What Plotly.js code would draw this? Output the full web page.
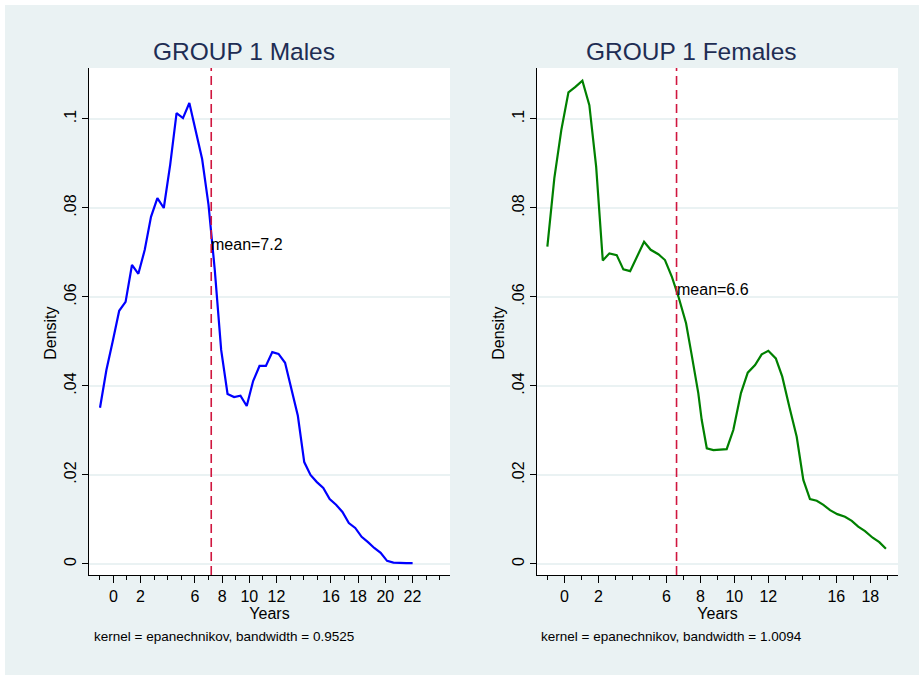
<!DOCTYPE html>
<html>
<head>
<meta charset="utf-8">
<script src="https://cdn.plot.ly/plotly-3.0.1.min.js"></script>
<style>
  html, body { margin: 0; padding: 0; background: #ffffff; }
  #chart { position: absolute; left: 5px; top: 5px; width: 914px; height: 670px; }
</style>
</head>
<body>
<div id="chart"></div>
<script>
// ---- Data ----
const maleX = [-0.98, -0.51, -0.04, 0.43, 0.90, 1.37, 1.84, 2.31, 2.77, 3.24, 3.71, 4.18, 4.65, 5.12, 5.59, 6.06, 6.53, 7.00, 7.46, 7.93, 8.40, 8.88, 9.35, 9.81, 10.28, 10.75, 11.22, 11.69, 12.15, 12.63, 13.10, 13.57, 14.04, 14.50, 14.97, 15.44, 15.91, 16.38, 16.85, 17.32, 17.79, 18.26, 18.73, 19.19, 19.66, 20.13, 20.60, 21.07, 21.54, 22.01];
const maleY = [0.0351, 0.0436, 0.0501, 0.0569, 0.0589, 0.0672, 0.0652, 0.0706, 0.0780, 0.0822, 0.0800, 0.0897, 0.1013, 0.1002, 0.1036, 0.0969, 0.0910, 0.0807, 0.0661, 0.0481, 0.0382, 0.0375, 0.0378, 0.0355, 0.0411, 0.0445, 0.0445, 0.0476, 0.0472, 0.0452, 0.0393, 0.0333, 0.0229, 0.0200, 0.0184, 0.0171, 0.0146, 0.0133, 0.0117, 0.0092, 0.0081, 0.0061, 0.0049, 0.0036, 0.0025, 0.0007, 0.0003, 0.0002, 0.0002, 0.0002];

const femaleX = [-1.00, -0.59, -0.18, 0.24, 0.65, 1.06, 1.47, 1.87, 2.26, 2.65, 3.08, 3.47, 3.87, 4.26, 4.69, 5.08, 5.53, 5.92, 6.32, 6.71, 7.16, 7.49, 7.88, 8.08, 8.38, 8.77, 9.16, 9.55, 9.94, 10.39, 10.79, 11.22, 11.61, 12.00, 12.44, 12.82, 13.24, 13.67, 14.06, 14.45, 14.85, 15.24, 15.63, 16.06, 16.51, 16.91, 17.29, 17.69, 18.14, 18.53, 18.92];
const femaleY = [0.0713, 0.0867, 0.0975, 0.1060, 0.1072, 0.1086, 0.1031, 0.0893, 0.0682, 0.0698, 0.0694, 0.0662, 0.0658, 0.0691, 0.0724, 0.0706, 0.0696, 0.0683, 0.0646, 0.0601, 0.0541, 0.0470, 0.0384, 0.0324, 0.0260, 0.0256, 0.0257, 0.0258, 0.0301, 0.0384, 0.0430, 0.0447, 0.0471, 0.0479, 0.0462, 0.0421, 0.0353, 0.0286, 0.0189, 0.0146, 0.0142, 0.0133, 0.0121, 0.0112, 0.0106, 0.0097, 0.0084, 0.0074, 0.0059, 0.0049, 0.0034];

const groupTitles = ['GROUP 1 Males', 'GROUP 1 Females'];
const means = [7.2, 6.6];
const bandwidths = ['0.9525', '1.0094'];

const yTickVals = [0, 0.02, 0.04, 0.06, 0.08, 0.1];
const yTickText = ['0', '.02', '.04', '.06', '.08', '.1'];
const maleXTicks = [0, 2, 6, 8, 10, 12, 16, 18, 20, 22];
const femaleXTicks = [0, 2, 6, 8, 10, 12, 16, 18];

// ---- Styling ----
const BG = '#EAF2F3';
const FONT = 'Liberation Sans, Arial, Helvetica, sans-serif';
const TITLE_COLOR = '#1E2D53';
const MEAN_COLOR = '#D0163F';

const traces = [
  { x: maleX, y: maleY, type: 'scatter', mode: 'lines', xaxis: 'x', yaxis: 'y',
    line: { color: '#0000FF', width: 2.2 }, hoverinfo: 'x+y', showlegend: false },
  { x: femaleX, y: femaleY, type: 'scatter', mode: 'lines', xaxis: 'x2', yaxis: 'y2',
    line: { color: '#008000', width: 2.2 }, hoverinfo: 'x+y', showlegend: false }
];

const yRange = [-0.00247, 0.11146];

function xAxis(domain, range, ticks) {
  return {
    domain: domain, range: range, anchor: domain[0] < 0.5 ? 'y' : 'y2',
    tickmode: 'array', tickvals: ticks, ticktext: ticks.map(String),
    ticks: 'outside', ticklen: 7, tickwidth: 1, tickcolor: '#000',
    minor: { tickmode: 'linear', tick0: 0, dtick: 1, ticks: 'outside', ticklen: 4, tickcolor: '#000', showgrid: false },
    showline: true, linecolor: '#000', linewidth: 1,
    showgrid: false, zeroline: false,
    tickfont: { family: FONT, size: 16, color: '#000' },
    title: { text: 'Years', font: { family: FONT, size: 16, color: '#000' }, standoff: 0 },
    fixedrange: true
  };
}
function yAxis(anchor) {
  return {
    domain: [0.1493, 0.906], range: yRange, anchor: anchor,
    tickmode: 'array', tickvals: yTickVals, ticktext: yTickText, tickangle: -90,
    ticks: 'outside', ticklen: 6, tickwidth: 1, tickcolor: '#000',
    showline: true, linecolor: '#000', linewidth: 1,
    showgrid: true, gridcolor: BG, gridwidth: 1.5, zeroline: false,
    tickfont: { family: FONT, size: 16, color: '#000' },
    fixedrange: true
  };
}

const shapes = [
  { type: 'line', xref: 'x', yref: 'y domain', x0: means[0], x1: means[0], y0: 0, y1: 1,
    line: { color: MEAN_COLOR, width: 1.6, dash: '9px,5px' } },
  { type: 'line', xref: 'x2', yref: 'y2 domain', x0: means[1], x1: means[1], y0: 0, y1: 1,
    line: { color: MEAN_COLOR, width: 1.6, dash: '9px,5px' } }
];

const annotations = [
  { text: groupTitles[0], xref: 'paper', yref: 'paper', x: 0.2615, y: 0.93, xanchor: 'center', yanchor: 'middle',
    showarrow: false, font: { family: FONT, size: 24.5, color: TITLE_COLOR } },
  { text: groupTitles[1], xref: 'paper', yref: 'paper', x: 0.7516, y: 0.93, xanchor: 'center', yanchor: 'middle',
    showarrow: false, font: { family: FONT, size: 24.5, color: TITLE_COLOR } },
  { text: 'Density', xref: 'paper', yref: 'paper', x: 0.0498, y: 0.51, textangle: -90, xanchor: 'center', yanchor: 'middle',
    showarrow: false, font: { family: FONT, size: 16, color: '#000' } },
  { text: 'Density', xref: 'paper', yref: 'paper', x: 0.5399, y: 0.51, textangle: -90, xanchor: 'center', yanchor: 'middle',
    showarrow: false, font: { family: FONT, size: 16, color: '#000' } },
  { text: 'mean=' + means[0], xref: 'x', yref: 'y', x: means[0], y: 0.0717, xanchor: 'left', yanchor: 'middle',
    xshift: -2, showarrow: false, font: { family: FONT, size: 16, color: '#000' } },
  { text: 'mean=' + means[1], xref: 'x2', yref: 'y2', x: means[1], y: 0.0616, xanchor: 'left', yanchor: 'middle',
    xshift: -2, showarrow: false, font: { family: FONT, size: 16, color: '#000' } },
  { text: 'kernel = epanechnikov, bandwidth = ' + bandwidths[0], xref: 'paper', yref: 'paper', x: 0.0952, y: 0.0582,
    xanchor: 'left', yanchor: 'middle', showarrow: false, font: { family: FONT, size: 13.5, color: '#000' } },
  { text: 'kernel = epanechnikov, bandwidth = ' + bandwidths[1], xref: 'paper', yref: 'paper', x: 0.5842, y: 0.0582,
    xanchor: 'left', yanchor: 'middle', showarrow: false, font: { family: FONT, size: 13.5, color: '#000' } }
];

const layout = {
  width: 914, height: 670,
  margin: { l: 0, r: 0, t: 0, b: 0, pad: 0 },
  paper_bgcolor: BG, plot_bgcolor: '#FFFFFF',
  showlegend: false,
  font: { family: FONT, color: '#000' },
  xaxis: xAxis([84 / 914, 445 / 914], [-1.79, 24.76], maleXTicks),
  yaxis: yAxis('x'),
  xaxis2: xAxis([532 / 914, 893 / 914], [-1.61, 19.63], femaleXTicks),
  yaxis2: yAxis('x2'),
  shapes: shapes,
  annotations: annotations
};

Plotly.newPlot('chart', traces, layout, { displayModeBar: false, staticPlot: true });
</script>
</body>
</html>
